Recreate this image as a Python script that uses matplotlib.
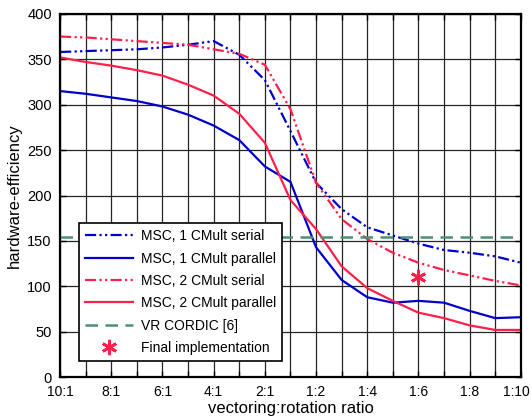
import numpy as np
import matplotlib
matplotlib.use('Agg')
import matplotlib.pyplot as plt
import matplotlib.transforms as mtransforms

plt.rcParams['font.family'] = ['Liberation Sans', 'DejaVu Sans']

# x categories: vectoring:rotation ratio
ratios = ['10:1', '9:1', '8:1', '7:1', '6:1', '5:1', '4:1', '3:1', '2:1', '1:1',
          '1:2', '1:3', '1:4', '1:5', '1:6', '1:7', '1:8', '1:9', '1:10']

msc1_serial = [358, 359, 360, 361, 363, 366, 370, 355, 327, 271, 214, 185,
               165, 156, 147, 140, 137, 133, 126]
msc1_parallel = [315, 312, 308, 304, 298, 289, 277, 261, 232, 215, 143, 107,
                 88, 82, 84, 82, 73, 65, 66]
msc2_serial = [375, 374, 372, 370, 368, 366, 361, 356, 344, 295, 214, 174,
               152, 137, 126, 118, 112, 106, 101]
msc2_parallel = [352, 347, 343, 338, 332, 322, 310, 290, 258, 195, 163, 122,
                 98, 84, 71, 65, 57, 52, 52]
vr_cordic = 154
final_ratio = '1:6'
final_value = 110

blue = '#0000cc'
red = '#ff1f4b'
green = '#4f8f73'

x = np.arange(len(ratios))

fig = plt.figure(figsize=(5.32, 4.2), dpi=100)
ax = fig.add_axes([0.113, 0.102, 0.866, 0.865])

ax.plot(x, msc1_serial, color=blue, lw=1.6, ls=(0, (5, 1.5, 1, 1.5, 1, 1.5)),
        label='MSC, 1 CMult serial')
ax.plot(x, msc1_parallel, color=blue, lw=1.6, label='MSC, 1 CMult parallel')
ax.plot(x, msc2_serial, color=red, lw=1.6, ls=(0, (5, 1.5, 1, 1.5, 1, 1.5)),
        label='MSC, 2 CMult serial')
ax.plot(x, msc2_parallel, color=red, lw=1.6, label='MSC, 2 CMult parallel')
ax.axhline(vr_cordic, color=green, lw=1.8, ls=(0, (5, 3)), label='VR CORDIC [6]')
ax.plot([ratios.index(final_ratio)], [final_value], ls='none', marker=(6, 2, 0),
        ms=11, mew=2, color=red, label='Final implementation')

ax.set_xlim(0, len(ratios) - 1)
ax.set_ylim(0, 400)
ax.set_xticks(x)
ax.set_xticklabels([r if i % 2 == 0 else '' for i, r in enumerate(ratios)])
ax.set_yticks(np.arange(0, 401, 50))
ax.grid(True, color='0.15', lw=0.9)
ax.set_axisbelow(True)
ax.tick_params(direction='in', length=4, width=1, labelsize=10.5, top=True, right=True)
ax.tick_params(axis='x', pad=6, labelsize=10)
ax.tick_params(axis='y', pad=6)
for s in ax.spines.values():
    s.set_linewidth(1.6)

# nudge the last x label so it stays inside the figure
last = ax.get_xticklabels()[-1]
last.set_transform(last.get_transform() +
                   mtransforms.ScaledTranslation(-3 / 72, 0, fig.dpi_scale_trans))

ax.set_xlabel('vectoring:rotation ratio', fontsize=12, labelpad=1)
ax.set_ylabel('hardware-efficiency', fontsize=12, labelpad=4)

leg = ax.legend(loc='lower left', bbox_to_anchor=(0.026, 0.025), fontsize=10,
                fancybox=False, framealpha=1, edgecolor='black',
                handlelength=3.4, borderpad=0.45, labelspacing=0.6,
                handletextpad=0.6)
leg.get_frame().set_linewidth(1.2)

plt.savefig('out.png', dpi=100)
